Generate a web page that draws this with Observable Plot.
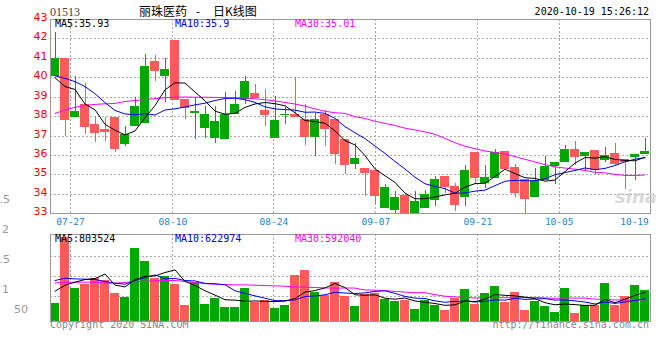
<!DOCTYPE html>
<html><head><meta charset="utf-8">
<script src="https://cdn.jsdelivr.net/npm/d3@7"></script>
<script src="https://cdn.jsdelivr.net/npm/@observablehq/plot@0.6"></script>
<style>
body{margin:0;background:#fff;}
#c{position:relative;width:660px;height:360px;overflow:hidden;background:#fff;}
#c svg{position:absolute;left:0;background:transparent !important;}
.t{position:absolute;white-space:pre;line-height:14px;height:14px;}
.mono{font-family:"DejaVu Sans Mono","Liberation Mono",monospace;font-size:10px;}
</style></head><body><div id="c"></div>
<script>
// ---- data ----
const open  = [40.07,41.00,37.97,38.60,37.61,37.33,37.97,36.58,37.50,37.66,40.83,40.07,41.90,38.86,38.17,37.40,36.89,36.84,38.12,38.87,39.20,38.34,36.89,38.07,38.12,37.85,36.94,38.12,37.85,36.82,35.55,35.33,35.23,33.29,33.19,33.94,33.00,33.29,33.67,34.92,34.40,33.86,36.15,34.58,34.83,36.20,35.38,34.76,33.86,34.71,35.43,35.64,36.30,35.96,36.25,35.76,36.10,35.79,35.89,36.05];
const high  = [42.33,41.00,40.05,39.73,37.97,37.97,37.97,37.49,38.99,41.19,41.13,41.00,41.90,38.86,38.99,38.51,38.51,39.22,39.32,40.05,39.68,39.39,39.03,38.48,40.02,38.60,38.17,38.31,37.85,36.82,36.63,35.33,35.23,34.51,34.15,34.01,34.15,34.20,34.90,34.92,34.54,35.48,36.15,35.48,36.29,36.20,35.53,34.76,35.31,35.96,35.64,36.51,36.72,36.15,36.25,36.41,36.61,35.79,36.05,36.87];
const low   = [40.07,36.99,37.97,37.08,36.68,36.72,36.17,36.48,37.50,37.66,39.82,38.74,38.86,37.85,36.82,36.90,36.63,36.84,38.12,38.62,38.98,37.50,36.89,37.62,38.02,36.51,35.96,36.48,35.55,35.00,35.26,33.91,33.46,33.29,33.00,33.00,33.00,33.29,33.38,34.03,33.12,33.38,34.49,34.28,34.83,35.35,33.86,33.00,33.86,34.71,34.51,35.64,35.48,35.17,35.00,35.65,35.48,34.25,34.71,36.05];
const close = [41.00,37.85,38.26,37.50,37.16,37.25,36.34,37.06,38.51,40.57,40.36,40.41,38.86,38.45,38.26,38.10,37.74,38.09,38.65,39.80,38.98,38.12,37.79,38.10,38.02,36.97,37.85,37.37,36.12,35.55,35.83,35.11,33.94,34.35,33.84,33.09,33.63,33.99,34.76,34.40,33.50,35.23,34.87,34.87,36.15,35.35,34.11,33.79,34.71,35.43,35.64,36.30,35.96,36.15,35.28,36.00,35.60,35.71,36.05,36.20];
const volume = [492000,2320000,909000,1021000,1188000,1132000,770000,659000,2023000,1661000,1188000,1243000,1021000,436000,1076000,464000,631000,380000,380000,909000,520000,575000,353000,436000,1271000,1410000,798000,714000,1067000,687000,408000,742000,761000,603000,547000,575000,325000,575000,436000,297000,640000,881000,464000,770000,965000,520000,798000,297000,547000,408000,232000,905000,213000,436000,436000,1048000,436000,687000,993000,854000];
// moving-average values before a full window exists
const ma5Head  = [40.00,39.55,39.40,38.65];
const ma10Head = [40.10,39.97,39.80,39.55,39.18,38.72,38.32,38.14,38.10];
const ma30Head = [38.16,38.35,38.48,38.58,38.63,38.66,38.68,38.78,38.83,38.88,38.93,38.97,39.00,39.01,39.00,39.00,38.99,38.98,38.97,38.96,38.92,38.87,38.81,38.73,38.65,38.54,38.40,38.28,38.20];
const vma5Head  = [835000,1002000,1086000,1160000];
const vma10Head = [1132000,1197000,1178000,1169000,1160000,1104000,1058000,1030000,1132000];
const vma30Head = [1067000,1076000,1086000,1086000,1086000,1067000,1058000,1076000,1104000,1113000,1123000,1132000,1132000,1104000,1076000,1048000,1030000,1021000,1011000,1011000,1002000,993000,983000,974000,956000,946000,937000,928000,919000];
// legend texts as printed in the picture
const maNames     = ["MA5", "MA10", "MA30"];
const priceLegend = ["35.93", "35.9", "35.01"];
const volLegend   = ["803524", "622974", "592040"];
const priceTicks = [33,34,35,36,37,38,39,40,41,42,43];
const dateLabels = ["07-27","08-10","08-24","09-07","09-21","10-05"];
const datePos    = [2, 12.23, 22.33, 32.53, 42.73, 50.87];
const lastLabel = "10-19", lastLabelPos = 58.4;
const volGrid = [1810000, 1250000, 700000];
const volMax = 2405000;

// ---- derived ----
function rolling(vals, k, head){ return vals.map((_, i) => i < k-1 ? head[i] : d3.mean(vals.slice(i-k+1, i+1))); }
const UP = "#00a800", DOWN = "#ff5a5a";
const rows = close.map((c, i) => ({i, o: open[i], h: high[i], l: low[i], c, v: volume[i], col: c >= open[i] ? UP : DOWN}));
const m5 = rolling(close,5,ma5Head), m10 = rolling(close,10,ma10Head), m30 = rolling(close,30,ma30Head);
const vm5 = rolling(volume,5,vma5Head), vm10 = rolling(volume,10,vma10Head), vm30 = rolling(volume,30,vma30Head);
rows.forEach((r,i)=>{r.m5=m5[i];r.m10=m10[i];r.m30=m30[i];r.vm5=vm5[i];r.vm10=vm10[i];r.vm30=vm30[i];});
const mid = d => d.i + 0.45;
const dotted = {stroke: "#aaa", strokeDasharray: "2,2", shapeRendering: "crispEdges"};
const ticks = dateLabels.map((t,k)=>({t, x: datePos[k]})).concat([{t: lastLabel, x: lastLabelPos}]);

const price = Plot.plot({
  width: 660, height: 230,
  marginTop: 19, marginBottom: 16.7, marginLeft: 50, marginRight: 10,
  x: {domain: [0, 60], axis: null},
  y: {domain: [33, 43], axis: null},
  color: {type: "identity"},
  style: {background: "transparent", fontFamily: "DejaVu Sans", overflow: "visible"},
  marks: [
    Plot.ruleY(d3.range(34, 43), dotted),
    Plot.ruleX(datePos, dotted),
    Plot.ruleX(rows, {x: mid, y1: "l", y2: "h", stroke: "col", shapeRendering: "crispEdges"}),
    Plot.rect(rows, {x1: "i", x2: d => d.i + 0.9, y1: "o", y2: "c", fill: "col", shapeRendering: "crispEdges"}),
    Plot.ruleY(rows, {y: "c", x1: "i", x2: d => d.i + 0.9, stroke: "col", shapeRendering: "crispEdges"}),
    Plot.line(rows, {x: mid, y: "m30", stroke: "#ff00ff", strokeWidth: 1}),
    Plot.line(rows, {x: mid, y: "m10", stroke: "#0000ff", strokeWidth: 1}),
    Plot.line(rows, {x: mid, y: "m5", stroke: "#000", strokeWidth: 1}),
    Plot.frame({stroke: "#999", shapeRendering: "crispEdges"}),
    Plot.text(priceTicks, {x: 0, y: d => d, text: d => String(d), textAnchor: "end", dx: -3, dy: -2, fill: "#f00", fontSize: 11}),
    Plot.text(ticks, {x: "x", y: 33, text: "t", dy: 8, fill: "#1a87d8", fontSize: 9.5, fontFamily: "DejaVu Sans Mono"})
  ]
});
price.style.top = "0px";

const vol = Plot.plot({
  width: 660, height: 112,
  marginTop: 6.3, marginBottom: 19.3, marginLeft: 50, marginRight: 10,
  x: {domain: [0, 60], axis: null},
  y: {domain: [0, volMax], axis: null},
  color: {type: "identity"},
  style: {background: "transparent", overflow: "visible"},
  marks: [
    Plot.ruleY(volGrid, dotted),
    Plot.ruleX(datePos, dotted),
    Plot.rect(rows, {x1: "i", x2: d => d.i + 0.9, y1: 0, y2: "v", fill: "col", shapeRendering: "crispEdges"}),
    Plot.line(rows, {x: mid, y: "vm30", stroke: "#ff00ff", strokeWidth: 1}),
    Plot.line(rows, {x: mid, y: "vm10", stroke: "#0000ff", strokeWidth: 1}),
    Plot.line(rows, {x: mid, y: "vm5", stroke: "#000", strokeWidth: 1}),
    Plot.frame({stroke: "#999", shapeRendering: "crispEdges"})
  ]
});
vol.style.top = "228px";

const root = document.getElementById("c");
root.appendChild(price);
root.appendChild(vol);

function label(text, x, yc, cls, style, anchorEnd){
  const s = document.createElement("span");
  s.className = "t " + (cls||"");
  s.textContent = text;
  s.style.top = (yc - 7) + "px";
  if (anchorEnd) s.style.right = (660 - x) + "px"; else s.style.left = x + "px";
  Object.assign(s.style, style||{});
  root.appendChild(s);
  return s;
}
const cjk = {fontFamily: '"Noto Sans CJK SC",sans-serif', fontSize: "12px", color: "#000"};
// header
label("01513", 50, 11.5, "", {fontFamily: '"Liberation Serif",serif', fontSize: "12px", color: "#444"});
label("丽珠医药", 139, 10.5, "", cjk);
label("-", 196, 10.5, "", cjk);
label("日K线图", 213, 10.5, "", cjk);
label("2020-10-19 15:26:12", 649, 11.7, "mono", {color: "#000"}, true);
// MA legends
const legColors = ["#000", "#0000ff", "#ff00ff"];
const legX = [55, 175, 295];
maNames.forEach((n, k) => {
  label(n + ":" + priceLegend[k], legX[k], 24.2, "mono", {color: legColors[k]});
  label(n + ":" + volLegend[k], legX[k], 238.7, "mono", {color: legColors[k]});
});
// clipped volume-scale labels at far left
const grayL = {fontFamily: '"DejaVu Sans",sans-serif', fontSize: "11px", color: "#999"};
label(".5", 10, 200, "", grayL, true);
label("2", 9, 230, "", grayL, true);
label(".5", 10, 260, "", grayL, true);
label("1", 9, 290, "", grayL, true);
label("50", 28, 310, "", grayL, true);
// footer
label("Copyright 2020 SINA.COM", 50, 324.5, "mono", {color: "#888"});
label("http://finance.sina.com.cn", 649, 324.5, "mono", {color: "#888"}, true);
// watermark
label("sina", 615, 197, "", {fontFamily: '"DejaVu Sans",sans-serif', fontSize: "18px", fontStyle: "italic", fontWeight: "bold", color: "rgba(200,200,200,0.7)", lineHeight: "14px"});
</script>
</body></html>
